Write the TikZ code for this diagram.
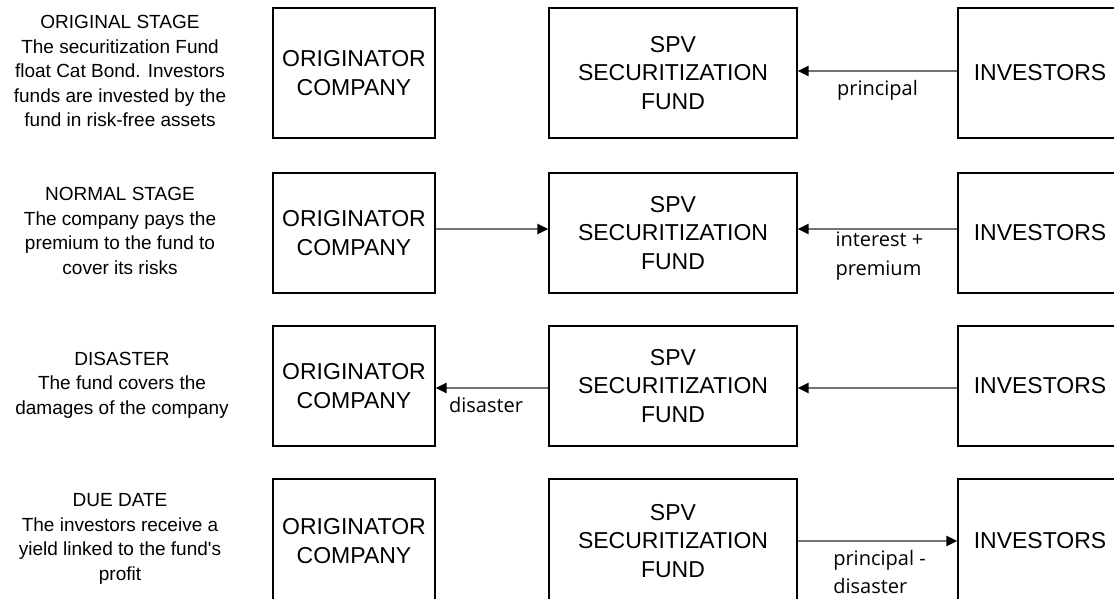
\documentclass[tikz,border=0pt]{standalone}
\usepackage{fontspec}
\setmainfont{Liberation Sans}
\newfontfamily\edgefont{Open Sans}
\usetikzlibrary{arrows.meta}

\tikzset{
    box/.style={draw=black, line width=1.3pt, align=center, inner sep=0pt, font=\fontsize{23}{28.5}\selectfont},
    stagetext/.style={align=center, inner sep=0pt, font=\fontsize{19}{24.5}\selectfont},
    flow/.style={draw=black!55, line width=2.2pt, -{Triangle[length=11pt,width=10pt,color=black]}},
    flowlabel/.style={align=left, inner sep=0pt, font=\edgefont\fontsize{20}{28.5}\selectfont}
}

\begin{document}
\begin{tikzpicture}[x=1pt,y=-1pt]
            \clip (0,0) rectangle (1114,599);
            \fill[white] (0,0) rectangle (1114,599);
            % three boxes per stage
            \foreach \r/\y/\h in {1/73/130,2/233/120,3/386/120,4/541/124}{
                \node[box, minimum width=162pt, minimum height=\h pt] (orig\r) at (354,\y) {ORIGINATOR\\COMPANY};
                \node[box, minimum width=248pt, minimum height=\h pt] (spv\r) at (673,\y) {SPV\\SECURITIZATION\\FUND};
                \node[box, minimum width=164pt, minimum height=\h pt] (inv\r) at (1040,\y) {INVESTORS};
            }
            \node[stagetext] (stage1) at (120,71) {ORIGINAL STAGE\\The securitization Fund\\float Cat Bond. Investors\\funds are invested by the\\fund in risk-free assets};
            \node[stagetext] (stage2) at (120,231) {NORMAL STAGE\\The company pays the\\premium to the fund to\\cover its risks};
            \node[stagetext] (stage3) at (122,385) {DISASTER\\The fund covers the\\damages of the company};
            \node[stagetext] (stage4) at (120,539) {DUE DATE\\The investors receive a\\yield linked to the fund\textquotesingle s\\profit};

            \draw[flow] ([yshift=2pt]inv1.west) -- node[flowlabel, below=8pt] {principal} ([yshift=2pt]spv1.east);
            \draw[flow] ([yshift=4pt]orig2.east) -- ([yshift=4pt]spv2.west);
            \draw[flow] ([yshift=4pt]inv2.west) -- node[flowlabel, below=2pt, xshift=2pt] {interest +\\premium} ([yshift=4pt]spv2.east);
            \draw[flow] ([yshift=-2pt]spv3.west) -- node[flowlabel, below=8pt, xshift=-6pt] {disaster} ([yshift=-2pt]orig3.east);
            \draw[flow] ([yshift=-2pt]inv3.west) -- ([yshift=-2pt]spv3.east);
            \draw[flow] (spv4.east) -- node[flowlabel, below=8pt, xshift=2pt] {principal -\\disaster} (inv4.west);
\end{tikzpicture}
\end{document}
